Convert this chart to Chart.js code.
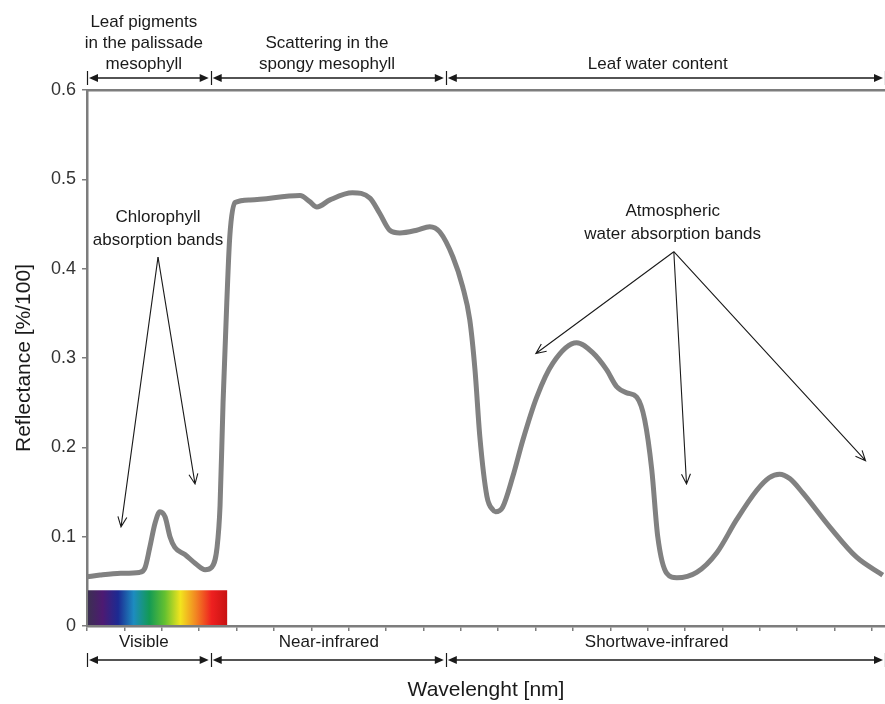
<!DOCTYPE html>
<html>
<head>
<meta charset="utf-8">
<script src="https://cdn.jsdelivr.net/npm/chart.js@4.4.1/dist/chart.umd.min.js"></script>
<style>
  html, body { margin: 0; padding: 0; background: #fff; }
  canvas { display: block; }
</style>
</head>
<body>
<canvas id="chart" width="885" height="704"></canvas>
<script>
// leaf reflectance spectrum
const wavelengths = [400, 435, 490, 540, 555, 568, 582, 595, 609, 622, 635, 662, 690, 716, 734, 748, 756, 764, 774, 782, 796, 836,
    970, 996, 1015, 1050, 1110, 1157, 1183, 1210, 1237, 1282, 1317, 1344, 1379, 1405, 1424, 1438, 1451, 1470, 1486, 1493, 1512,
    1539, 1566, 1603, 1646, 1710, 1753, 1790, 1817, 1844, 1871, 1892, 1911, 1927, 1951, 1978, 2031, 2085, 2138, 2192, 2225,
    2253, 2280, 2315, 2387, 2459, 2529];
const reflectance = [0.055, 0.057, 0.059, 0.060, 0.065, 0.088, 0.115, 0.128, 0.122, 0.100, 0.088, 0.080, 0.070, 0.063, 0.066,
    0.088, 0.135, 0.250, 0.362, 0.436, 0.474, 0.477, 0.482, 0.475, 0.469, 0.477, 0.485, 0.479, 0.462, 0.443, 0.440, 0.443, 0.447,
    0.441, 0.413, 0.380, 0.343, 0.287, 0.212, 0.145, 0.130, 0.128, 0.133, 0.167, 0.208, 0.256, 0.294, 0.317, 0.306, 0.287, 0.268,
    0.261, 0.256, 0.231, 0.175, 0.100, 0.059, 0.054, 0.060, 0.082, 0.119, 0.152, 0.166, 0.170, 0.165, 0.149, 0.111, 0.077, 0.057];

// spectral regions (nm) and their labels
const regionBounds = [400, 731, 1360, 2535];
const topLabels = [['Leaf pigments', 'in the palissade', 'mesophyll'], ['Scattering in the', 'spongy mesophyll'], ['Leaf water content']];
const topLabelX = [552, 1042, 1927];
const bottomLabels = ['Visible', 'Near-infrared', 'Shortwave-infrared'];
const bottomLabelX = [552, 1047, 1924];

// visible colour bar
const spectrumRange = [400, 775];
const spectrumTop = 0.04;
const spectrumColors = ['#3b3150', '#4d1a72', '#1c2a92', '#1d8cc0', '#139a55', '#64c030', '#f2e41e', '#f28522', '#ee2020', '#c81212'];

// callouts: text lines, text position, apex, arrow tips (nm, reflectance)
const chlLines = ['Chlorophyll', 'absorption bands'];
const chlTextPos = [590, 0.458];
const chlApex = [590, 0.413];
const chlTipsX = [491, 689];
const chlTipsY = [0.111, 0.159];

const waterLines = ['Atmospheric', 'water absorption bands'];
const waterTextPos = [1967, 0.464];
const waterApex = [1970, 0.419];
const waterTipsX = [1601, 2004, 2483];
const waterTipsY = [0.305, 0.159, 0.185];

const FONT = "'Liberation Sans', Arial, sans-serif";
const AXIS_GREY = '#7d7d7d';
const INK = '#1a1a1a';

function filledHead(ctx, tipX, y, dir) {
    ctx.beginPath();
    ctx.moveTo(tipX, y);
    ctx.lineTo(tipX - dir * 9, y - 4);
    ctx.lineTo(tipX - dir * 9, y + 4);
    ctx.closePath();
    ctx.fill();
}

function openArrow(ctx, x1, y1, x2, y2) {
    const ang = Math.atan2(y2 - y1, x2 - x1);
    const len = 11, spread = 0.42;
    ctx.beginPath();
    ctx.moveTo(x1, y1);
    ctx.lineTo(x2, y2);
    ctx.moveTo(x2 - len * Math.cos(ang - spread), y2 - len * Math.sin(ang - spread));
    ctx.lineTo(x2, y2);
    ctx.lineTo(x2 - len * Math.cos(ang + spread), y2 - len * Math.sin(ang + spread));
    ctx.stroke();
}

function drawBracketRow(ctx, xs, y) {
    ctx.strokeStyle = INK;
    ctx.fillStyle = INK;
    ctx.lineWidth = 1.5;
    for (let i = 0; i < regionBounds.length - 1; i++) {
        const a = xs.getPixelForValue(regionBounds[i]);
        const b = xs.getPixelForValue(regionBounds[i + 1]);
        ctx.beginPath();
        ctx.moveTo(a + 6, y);
        ctx.lineTo(b - 6, y);
        ctx.stroke();
        filledHead(ctx, a + 2, y, -1);
        filledHead(ctx, b - 2, y, 1);
    }
    ctx.lineWidth = 1.2;
    regionBounds.forEach(v => {
        const x = Math.round(xs.getPixelForValue(v)) + 0.5;
        ctx.beginPath();
        ctx.moveTo(x, y - 7);
        ctx.lineTo(x, y + 7);
        ctx.stroke();
    });
}

const decorPlugin = {
    id: 'decor',
    beforeDatasetsDraw(chart) {
        const {ctx, scales: {x, y}} = chart;
        const x0 = x.getPixelForValue(spectrumRange[0]);
        const x1 = x.getPixelForValue(spectrumRange[1]);
        const yTop = y.getPixelForValue(spectrumTop);
        const yBot = y.getPixelForValue(0) - 1;
        const grad = ctx.createLinearGradient(x0, 0, x1, 0);
        spectrumColors.forEach((c, i) => grad.addColorStop(i / (spectrumColors.length - 1), c));
        ctx.save();
        ctx.fillStyle = grad;
        ctx.fillRect(x0 + 1, yTop, x1 - x0 - 1, yBot - yTop);
        ctx.restore();
    },
    afterDraw(chart) {
        const {ctx, chartArea, scales: {x, y}} = chart;
        ctx.save();

        // region brackets above and below the plot
        const topRow = chartArea.top - 12;
        const botRow = chartArea.bottom + 34;
        drawBracketRow(ctx, x, topRow);
        drawBracketRow(ctx, x, botRow);

        ctx.font = '17px ' + FONT;
        ctx.fillStyle = INK;
        ctx.textAlign = 'center';
        ctx.textBaseline = 'middle';
        topLabels.forEach((lines, i) => {
            const cx = x.getPixelForValue(topLabelX[i]);
            lines.forEach((t, j) => {
                ctx.fillText(t, cx, topRow - 14 - (lines.length - 1 - j) * 21);
            });
        });
        bottomLabels.forEach((t, i) => {
            ctx.fillText(t, x.getPixelForValue(bottomLabelX[i]), chartArea.bottom + 16);
        });

        // callouts
        ctx.lineWidth = 1.1;
        ctx.strokeStyle = INK;
        const callout = (lines, pos, apex, tx, ty) => {
            const cx = x.getPixelForValue(pos[0]);
            const cy = y.getPixelForValue(pos[1]);
            lines.forEach((t, j) => ctx.fillText(t, cx, cy + j * 23));
            const ax = x.getPixelForValue(apex[0]);
            const ay = y.getPixelForValue(apex[1]);
            tx.forEach((v, k) => openArrow(ctx, ax, ay, x.getPixelForValue(v), y.getPixelForValue(ty[k])));
        };
        callout(chlLines, chlTextPos, chlApex, chlTipsX, chlTipsY);
        callout(waterLines, waterTextPos, waterApex, waterTipsX, waterTipsY);

        ctx.restore();
    }
};

const ctx = document.getElementById('chart').getContext('2d');
Chart.defaults.font.family = FONT;
Chart.defaults.color = INK;

new Chart(ctx, {
    type: 'line',
    data: {
        labels: wavelengths,
        datasets: [{
            label: 'Reflectance',
            data: wavelengths.map((w, i) => ({x: w, y: reflectance[i]})),
            borderColor: '#818181',
            borderWidth: 5,
            pointRadius: 0,
            fill: false,
            cubicInterpolationMode: 'monotone'
        }]
    },
    options: {
        responsive: false,
        animation: false,
        devicePixelRatio: 1,
        layout: { padding: 0 },
        plugins: {
            legend: { display: false },
            tooltip: { enabled: false }
        },
        scales: {
            x: {
                type: 'linear',
                position: 'bottom',
                min: 400,
                max: 2535,
                afterFit: s => { s.height = 78; },
                ticks: { display: false, stepSize: 100, includeBounds: false },
                grid: { drawOnChartArea: false, color: AXIS_GREY, tickLength: 5, lineWidth: 1.5 },
                border: { color: AXIS_GREY, width: 2.5 },
                title: {
                    display: true,
                    text: 'Wavelenght [nm]',
                    font: { size: 21 },
                    color: INK,
                    padding: { top: 0, bottom: 1 }
                }
            },
            xTop: {
                type: 'linear',
                position: 'top',
                min: 400,
                max: 2535,
                afterFit: s => { s.height = 90; },
                ticks: { display: false },
                grid: { display: false },
                border: { color: AXIS_GREY, width: 2.5 }
            },
            y: {
                min: 0,
                max: 0.6,
                afterFit: s => { s.width = 87; },
                ticks: {
                    stepSize: 0.1,
                    padding: 6,
                    color: '#333',
                    font: { size: 18 },
                    callback: v => String(Number(v.toFixed(1)))
                },
                grid: { drawOnChartArea: false, color: AXIS_GREY, tickLength: 5, lineWidth: 1.5 },
                border: { color: AXIS_GREY, width: 2.5 },
                title: {
                    display: true,
                    text: 'Reflectance [%/100]',
                    font: { size: 21 },
                    color: INK,
                    padding: { top: 12, bottom: 0 }
                }
            }
        }
    },
    plugins: [decorPlugin]
});
</script>
</body>
</html>
